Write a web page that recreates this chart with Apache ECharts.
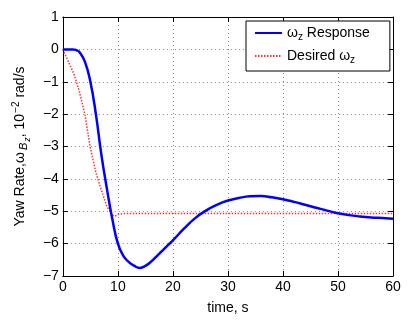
<!DOCTYPE html>
<html><head><meta charset="utf-8">
<script src="https://cdn.jsdelivr.net/npm/echarts@6/dist/echarts.min.js"></script>
<style>html,body{margin:0;padding:0;background:#fff}#c{width:414px;height:320px}</style>
</head><body><div id="c"></div>
<script>
const responseTime = [0,1,1.8,2.5,3,4,5,6,7,8,9,10,11,12,13,14,15,16,17,18,19,20,22,24,26,28,30,32,34,36,38,40,42,44,46,48,50,52,54,56,58,60];
const responseYaw = [0,0,0,-0.03,-0.08,-0.38,-1.0,-2.0,-3.25,-4.3,-5.25,-6.0,-6.38,-6.57,-6.69,-6.75,-6.69,-6.56,-6.4,-6.23,-6.06,-5.9,-5.54,-5.22,-4.98,-4.8,-4.67,-4.59,-4.54,-4.53,-4.57,-4.63,-4.71,-4.8,-4.89,-4.98,-5.06,-5.12,-5.16,-5.19,-5.21,-5.23];
const desiredTime = [0,1,2,3,4,5,6,7,8,9,9.5,10,11,12,20,30,40,50,60];
const desiredYaw = [0,-0.38,-0.75,-1.3,-2.0,-3.05,-3.8,-4.35,-4.85,-5.12,-5.15,-5.1,-5.07,-5.07,-5.07,-5.07,-5.07,-5.07,-5.07];
const seriesNames = ['ωz Response', 'Desired ωz'];
const xName = 'time, s';

const FONT = "'Liberation Sans', Arial, Helvetica, sans-serif";
const minus = v => String(v).replace('-', '\u2212');
const chart = echarts.init(document.getElementById('c'), null, {renderer: 'canvas'});
const gridLine = {show: true, lineStyle: {color: '#8a8a8a', width: 1, type: [1, 3]}};
const axLine = {show: true, onZero: false, lineStyle: {color: '#000', width: 1}};
const tick = {show: true, inside: true, length: 5, lineStyle: {color: '#000'}};
chart.setOption({
  animation: false,
  backgroundColor: '#fff',
  grid: {left: 56, right: 21, top: 17, bottom: 37},
  xAxis: [{
    type: 'value', min: 0, max: 60, interval: 10, position: 'bottom',
    axisLine: axLine, axisTick: tick, splitLine: gridLine,
    axisLabel: {color: '#000', fontSize: 14, fontFamily: FONT, margin: 4},
    name: xName, nameLocation: 'middle', nameGap: 25,
    nameTextStyle: {color: '#000', fontSize: 14, fontFamily: FONT}
  }, {
    type: 'value', min: 0, max: 60, interval: 10, position: 'top',
    axisLine: axLine, axisTick: tick, splitLine: {show: false}, axisLabel: {show: false}
  }],
  yAxis: [{
    type: 'value', min: -7, max: 1, interval: 1, position: 'left',
    axisLine: axLine, axisTick: tick, splitLine: gridLine,
    axisLabel: {color: '#000', fontSize: 14, fontFamily: FONT, margin: 4, formatter: minus},
    name: '{n|Yaw Rate,ω}{b|B}{z|z}{n|, 10}{p|\u22122}{n| rad/s}',
    nameLocation: 'middle', nameGap: 29,
    nameTextStyle: {
      color: '#000', fontSize: 14, fontFamily: FONT,
      rich: {
        n: {fontSize: 14, fontFamily: FONT, color: '#000', lineHeight: 24, verticalAlign: 'middle'},
        b: {fontSize: 11, fontFamily: FONT, fontStyle: 'italic', color: '#000', lineHeight: 14, verticalAlign: 'bottom', padding: [0, 1, 3, 2]},
        z: {fontSize: 9, fontFamily: FONT, fontStyle: 'italic', color: '#000', lineHeight: 10, verticalAlign: 'bottom'},
        p: {fontSize: 10, fontFamily: FONT, color: '#000', lineHeight: 10, verticalAlign: 'top', padding: [3, 0, 0, 1]}
      }
    }
  }, {
    type: 'value', min: -7, max: 1, interval: 1, position: 'right',
    axisLine: axLine, axisTick: tick, splitLine: {show: false}, axisLabel: {show: false}
  }],
  legend: {
    orient: 'vertical', left: 246, top: 21,
    padding: [5, 20, 6, 8], itemGap: 7, itemWidth: 27, itemHeight: 14, itemTextGap: 12,
    backgroundColor: '#fff', borderColor: '#000', borderWidth: 1, borderRadius: 0,
    itemStyle: {opacity: 0},
    data: seriesNames,
    formatter: name => name === seriesNames[0] ? '{t|ω}{s|z}{t| Response}' : '{t|Desired ω}{s|z}',
    textStyle: {
      color: '#000', fontSize: 14, fontFamily: FONT,
      rich: {
        t: {fontSize: 14, fontFamily: FONT, color: '#000', lineHeight: 18, verticalAlign: 'middle'},
        s: {fontSize: 10, fontFamily: FONT, color: '#000', lineHeight: 10, verticalAlign: 'bottom'}
      }
    }
  },
  series: [{
    name: seriesNames[0], type: 'line', xAxisIndex: 0, yAxisIndex: 0,
    data: responseTime.map((t, i) => [t, responseYaw[i]]),
    smooth: 0.5, symbol: 'none', clip: true,
    lineStyle: {color: '#0000ff', width: 2.5}, itemStyle: {color: '#0000ff'}, z: 3
  }, {
    name: seriesNames[1], type: 'line', xAxisIndex: 0, yAxisIndex: 0,
    data: desiredTime.map((t, i) => [t, desiredYaw[i]]),
    smooth: false, symbol: 'none', clip: true,
    lineStyle: {color: '#ff3030', width: 1.5, type: [1.5, 1.5]}, itemStyle: {color: '#ff0000'}, z: 2
  }]
});
</script></body></html>
